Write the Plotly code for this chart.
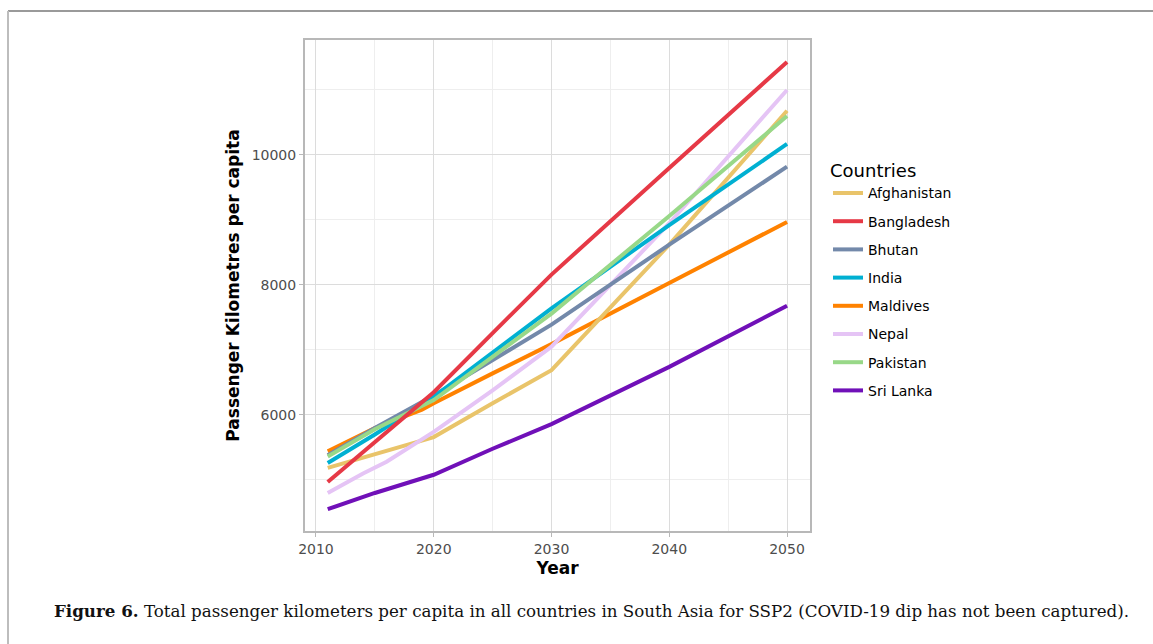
import plotly.graph_objects as go

countries = ["Afghanistan", "Bangladesh", "Bhutan", "India", "Maldives", "Nepal", "Pakistan", "Sri Lanka"]
colors = ["#E9C46A", "#E63946", "#7389AA", "#00B0D2", "#FF8200", "#E5C4F5", "#98D888", "#7010B8"]

years_std = [2011, 2015, 2020, 2025, 2030, 2040, 2050]

afghanistan = [5185, 5400, 5660, 6180, 6690, 8620, 10680]
bangladesh = [4970, 5590, 6350, 7260, 8160, 9800, 11430]
bhutan = [5380, 5800, 6300, 6850, 7390, 8620, 9820]
india = [5260, 5700, 6280, 6960, 7640, 8920, 10170]
years_maldives = [2011, 2015, 2019, 2020, 2025, 2030, 2040, 2050]
maldives = [5440, 5800, 6080, 6180, 6640, 7090, 8030, 8970]
years_nepal = [2011, 2014, 2016, 2020, 2025, 2030, 2040, 2050]
nepal = [4800, 5100, 5280, 5740, 6380, 7050, 8950, 11000]
pakistan = [5360, 5780, 6230, 6900, 7560, 9060, 10600]
sri_lanka = [4550, 4800, 5080, 5480, 5860, 6740, 7680]

x_ticks = [2010, 2020, 2030, 2040, 2050]
y_ticks = [6000, 8000, 10000]
y_tick_labels = ["6000", "8000", "10000"]

series_years = [years_std, years_std, years_std, years_std, years_maldives, years_nepal, years_std, years_std]
series_vals = [afghanistan, bangladesh, bhutan, india, maldives, nepal, pakistan, sri_lanka]

# Drawing order (first drawn at bottom)
draw_order = [7, 4, 0, 5, 2, 3, 6, 1]

fig = go.Figure()
for i in draw_order:
    fig.add_trace(go.Scatter(
        x=series_years[i], y=series_vals[i], mode="lines", name=countries[i],
        line=dict(color=colors[i], width=4), legendgroup=countries[i],
        legendrank=i + 1, showlegend=True,
    ))

L, R, T, B = 305, 810, 40, 531
W, H = 1153, 644
pw, ph = R - L, B - T

def px(x):
    return (x - L) / pw

def py(y):
    return (B - y) / ph

fig.update_layout(
    width=W, height=H,
    margin=dict(l=L, r=W - R, t=T, b=H - B, pad=0),
    paper_bgcolor="white", plot_bgcolor="white",
    font=dict(family="DejaVu Sans", color="#4d4d4d", size=14),
    showlegend=True,
    legend=dict(
        title=dict(text="Countries", font=dict(size=18, color="black", family="DejaVu Sans")),
        x=px(828), y=py(154), xanchor="left", yanchor="top",
        font=dict(size=14, color="black", family="DejaVu Sans"),
        tracegroupgap=7, itemwidth=30, bgcolor="rgba(0,0,0,0)",
    ),
    xaxis=dict(
        range=[2009.07, 2051.95], tickvals=x_ticks,
        showgrid=True, gridcolor="#dcdcdc", gridwidth=1,
        minor=dict(tickvals=[2015, 2025, 2035, 2045], showgrid=True, gridcolor="#eeeeee", gridwidth=1),
        showline=True, linecolor="#b8b8b8", linewidth=2, mirror=True,
        ticks="outside", ticklen=4, tickcolor="#b8b8b8",
        zeroline=False,
        title=dict(text="<b>Year</b>", font=dict(size=17, color="black", family="DejaVu Sans"), standoff=6),
        tickfont=dict(size=14, color="#4d4d4d"),
    ),
    yaxis=dict(
        range=[4215, 11769], tickvals=y_ticks, ticktext=y_tick_labels,
        showgrid=True, gridcolor="#dcdcdc", gridwidth=1,
        minor=dict(tickvals=[5000, 7000, 9000, 11000], showgrid=True, gridcolor="#eeeeee", gridwidth=1),
        showline=True, linecolor="#b8b8b8", linewidth=2, mirror=True,
        ticks="outside", ticklen=4, tickcolor="#b8b8b8",
        zeroline=False,
        title=dict(text="<b>Passenger Kilometres per capita</b>", font=dict(size=17, color="black", family="DejaVu Sans"), standoff=8),
        tickfont=dict(size=14, color="#4d4d4d"),
    ),
    shapes=[
        dict(type="line", xref="paper", yref="paper", x0=px(8), x1=px(1160), y0=py(11), y1=py(11),
             line=dict(color="#9a9a9a", width=2)),
        dict(type="line", xref="paper", yref="paper", x0=px(8), x1=px(8), y0=py(11), y1=py(650),
             line=dict(color="#bdbdbd", width=2)),
    ],
    annotations=[
        dict(text="<b>Figure 6.</b> Total passenger kilometers per capita in all countries in South Asia for SSP2 (COVID-19 dip has not been captured).",
             xref="paper", yref="paper", x=px(52), y=py(611), xanchor="left", yanchor="middle",
             showarrow=False, font=dict(family="DejaVu Serif", size=16.7, color="#111111")),
    ],
)

fig.write_html("out.html", config={"displayModeBar": False},
               post_script="document.body.style.margin='0';document.body.style.overflow='hidden';")
